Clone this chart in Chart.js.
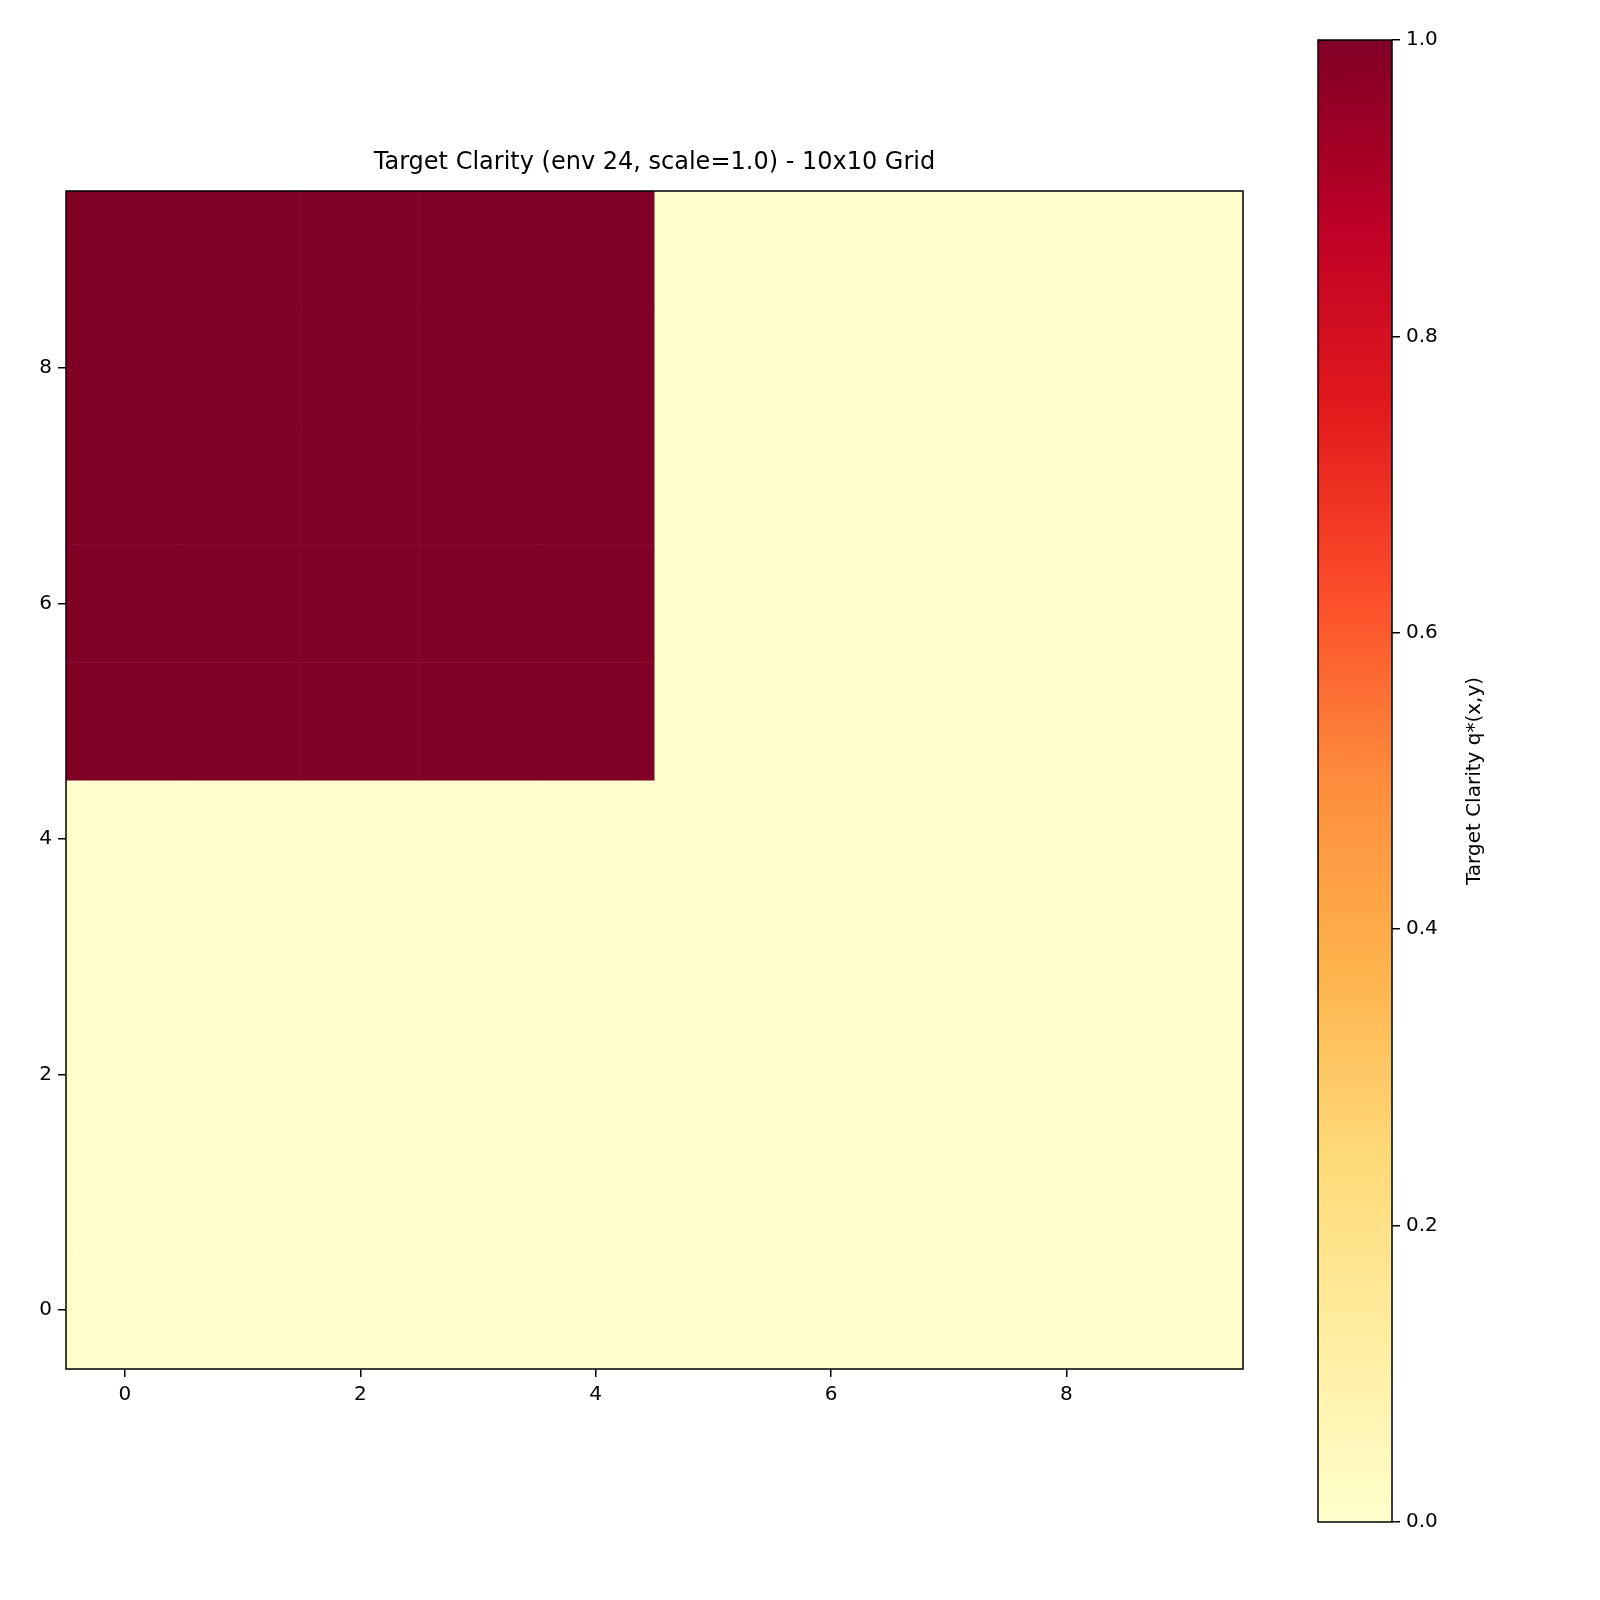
<!DOCTYPE html>
<html>
<head>
<meta charset="utf-8">
<script src="https://cdn.jsdelivr.net/npm/chart.js@4/dist/chart.umd.min.js"></script>
<style>
  body { margin: 0; background: #fff; }
  #wrap { position: relative; width: 1600px; height: 1600px; }
  canvas { position: absolute; top: 0; }
</style>
</head>
<body>
<div id="wrap">
  <canvas id="main" width="1300" height="1600" style="left:0;width:1300px;height:1600px"></canvas>
  <canvas id="cbar" width="300" height="1600" style="left:1300px;width:300px;height:1600px"></canvas>
</div>
<script>
// grid values, row 0 = y 0 (bottom)
const gridRows = [
  [0,0,0,0,0,0,0,0,0,0],
  [0,0,0,0,0,0,0,0,0,0],
  [0,0,0,0,0,0,0,0,0,0],
  [0,0,0,0,0,0,0,0,0,0],
  [0,0,0,0,0,0,0,0,0,0],
  [1,1,1,1,1,0,0,0,0,0],
  [1,1,1,1,1,0,0,0,0,0],
  [1,1,1,1,1,0,0,0,0,0],
  [1,1,1,1,1,0,0,0,0,0],
  [1,1,1,1,1,0,0,0,0,0],
];
const xTicks = [0, 2, 4, 6, 8];
const yTicks = [0, 2, 4, 6, 8];
const cbarTicks = [0, 0.2, 0.4, 0.6, 0.8, 1.0];
const cmapStops = ['#ffffcc','#ffeda0','#fed976','#feb24c','#fd8d3c','#fc4e2a','#e31a1c','#bd0026','#800026'];
const titleText = 'Target Clarity (env 24, scale=1.0) - 10x10 Grid';
const cbarLabel = 'Target Clarity q*(x,y)';

const FONT = 'DejaVu Sans';
Chart.defaults.font.family = FONT;
Chart.defaults.color = '#000';

function hexToRgb(h) {
  return [1, 3, 5].map(i => parseInt(h.substr(i, 2), 16));
}
function colorFor(v) {
  const t = Math.max(0, Math.min(1, v)) * (cmapStops.length - 1);
  const i = Math.min(Math.floor(t), cmapStops.length - 2);
  const f = t - i;
  const a = hexToRgb(cmapStops[i]), b = hexToRgb(cmapStops[i + 1]);
  const c = a.map((x, k) => Math.round(x + (b[k] - x) * f));
  return `rgb(${c[0]},${c[1]},${c[2]})`;
}

const heatPlugin = {
  id: 'heat',
  beforeDatasetsDraw(chart) {
    const { ctx, scales: { x, y }, chartArea } = chart;
    ctx.save();
    gridRows.forEach((row, j) => {
      row.forEach((v, i) => {
        const x0 = x.getPixelForValue(i - 0.5), x1 = x.getPixelForValue(i + 0.5);
        const y0 = y.getPixelForValue(j + 0.5), y1 = y.getPixelForValue(j - 0.5);
        ctx.fillStyle = colorFor(v);
        ctx.fillRect(x0, y0, x1 - x0 + 0.5, y1 - y0 + 0.5);
      });
    });
    ctx.strokeStyle = '#000';
    ctx.lineWidth = 1.5;
    ctx.strokeRect(chartArea.left, chartArea.top, chartArea.right - chartArea.left, chartArea.bottom - chartArea.top);
    ctx.font = `24px "${FONT}"`;
    ctx.fillStyle = '#000';
    ctx.textAlign = 'center';
    ctx.textBaseline = 'middle';
    ctx.fillText(titleText, (chartArea.left + chartArea.right) / 2, 163);
    ctx.restore();
  }
};

const tickAxis = (ticks) => ({
  type: 'linear', min: -0.5, max: 9.5,
  afterBuildTicks: s => { s.ticks = ticks.map(v => ({ value: v })); },
  grid: { display: true, drawOnChartArea: false, color: '#000', tickLength: 8, lineWidth: 1.5 },
  border: { display: false },
  ticks: { font: { size: 20 }, padding: 6, callback: v => String(v) }
});

new Chart(document.getElementById('main'), {
  type: 'scatter',
  data: { datasets: [{ data: [] }] },
  options: {
    responsive: false, animation: false, devicePixelRatio: 1,
    layout: { padding: { top: 191, right: 57, left: 0, bottom: 0 } },
    plugins: { legend: { display: false }, tooltip: { enabled: false } },
    scales: {
      x: Object.assign(tickAxis(xTicks), { afterFit: s => { s.height = 231; } }),
      y: Object.assign(tickAxis(yTicks), { afterFit: s => { s.width = 66; } })
    }
  },
  plugins: [heatPlugin]
});

const cbarPlugin = {
  id: 'cbar',
  beforeDatasetsDraw(chart) {
    const { ctx, scales: { y }, chartArea } = chart;
    ctx.save();
    const top = y.getPixelForValue(1), bot = y.getPixelForValue(0);
    const g = ctx.createLinearGradient(0, bot, 0, top);
    cmapStops.forEach((c, i) => g.addColorStop(i / (cmapStops.length - 1), c));
    ctx.fillStyle = g;
    ctx.fillRect(chartArea.left, top, chartArea.right - chartArea.left, bot - top);
    ctx.strokeStyle = '#000';
    ctx.lineWidth = 1.5;
    ctx.strokeRect(chartArea.left, top, chartArea.right - chartArea.left, bot - top);
    ctx.translate(175, (top + bot) / 2);
    ctx.rotate(-Math.PI / 2);
    ctx.font = `20px "${FONT}"`;
    ctx.fillStyle = '#000';
    ctx.textAlign = 'center';
    ctx.textBaseline = 'middle';
    ctx.fillText(cbarLabel, 0, 0);
    ctx.restore();
  }
};

new Chart(document.getElementById('cbar'), {
  type: 'scatter',
  data: { datasets: [{ data: [] }] },
  options: {
    responsive: false, animation: false, devicePixelRatio: 1,
    layout: { padding: { top: 40, bottom: 78, left: 18, right: 0 } },
    plugins: { legend: { display: false }, tooltip: { enabled: false } },
    scales: {
      x: { display: false, min: 0, max: 1 },
      y: {
        position: 'right', min: 0, max: 1,
        afterBuildTicks: s => { s.ticks = cbarTicks.map(v => ({ value: v })); },
        afterFit: s => { s.width = 208; },
        grid: { display: true, drawOnChartArea: false, color: '#000', tickLength: 8, lineWidth: 1.5 },
        border: { display: false },
        ticks: { font: { size: 20 }, padding: 6, callback: v => v.toFixed(1) }
      }
    }
  },
  plugins: [cbarPlugin]
});
</script>
</body>
</html>
